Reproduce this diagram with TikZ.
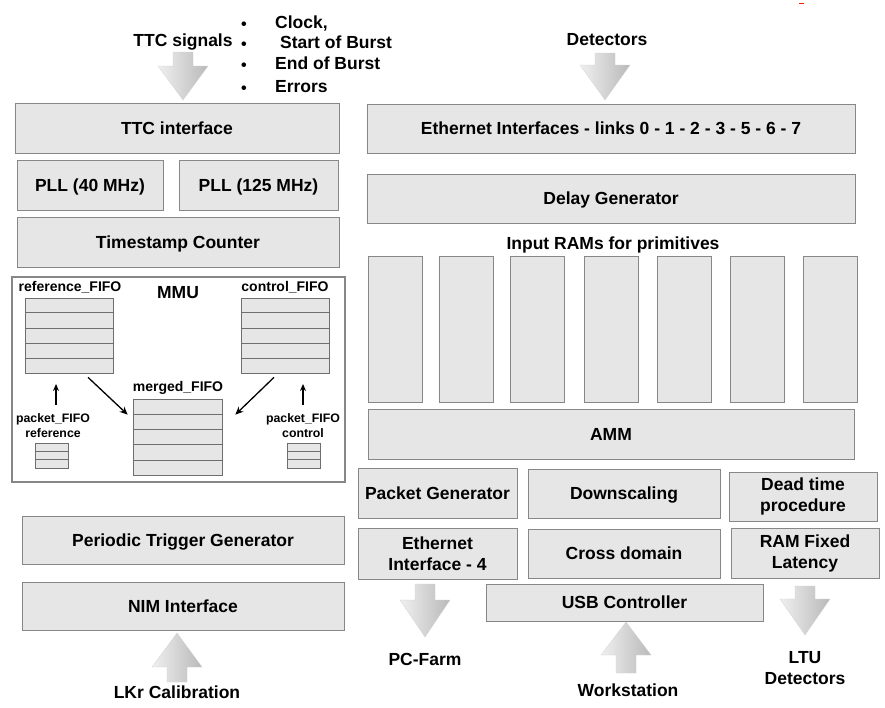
\documentclass[tikz,border=0pt]{standalone}
\usepackage{fontspec}
\setmainfont{Liberation Sans}
\usetikzlibrary{calc,arrows.meta}
\definecolor{boxfill}{RGB}{230,230,230}
\definecolor{boxline}{RGB}{135,135,135}
\definecolor{fifoline}{RGB}{110,110,110}
\newcommand\fbig{\fontsize{17.5}{21}\selectfont\bfseries}
\newcommand\fmid{\fontsize{14}{16}\selectfont\bfseries}
\newcommand\fsmall{\fontsize{12.3}{15}\selectfont\bfseries}
% block arrow: x, far end of shaft, head base, tip
\newcommand\blockarr[4]{%
  \shade[left color=gray!12, right color=gray!55, draw=gray!35, line width=0.3pt]
    (#1-10,#2) -- (#1+10,#2) -- (#1+10,#3) -- (#1+25,#3) -- (#1,#4)
    -- (#1-25,#3) -- (#1-10,#3) -- cycle;}
\begin{document}
\begin{tikzpicture}[x=1pt,y=-1pt,
  every node/.style={font=\fbig, align=center, inner sep=0pt},
  box/.style={draw=boxline, fill=boxfill, line width=0.9pt},
  oneline/.style={text height=12.6pt, text depth=0pt},
  fifo/.style={draw=fifoline, fill=boxfill, line width=0.7pt},
  mmuarrow/.style={line width=1.3pt, -{Stealth[length=8pt,width=7pt]}}]
\useasboundingbox (0,0) rectangle (885,707);

% ---------- top labels ----------
\node[oneline] (ttcsig) at (183,40) {TTC signals};
\foreach \yy [count=\i] in {22,42,63,86}
  \node[font=\fontsize{16}{16}\selectfont\bfseries] (bul\i) at (244,\yy+4) {•};
\node[anchor=west, oneline] (clk) at (275,22) {Clock,};
\node[anchor=west, oneline] (sob) at (280,42) {Start of Burst};
\node[anchor=west, oneline] (eob) at (275,63) {End of Burst};
\node[anchor=west, oneline] (err) at (275,86) {Errors};
\node[oneline] (det) at (607,39) {Detectors};
\draw[red!80!orange, line width=1pt] (799,3) -- (804,3);

\blockarr{183}{52}{66}{100}
\blockarr{605}{53}{65}{100}

% ---------- left column ----------
\node[box, oneline, minimum width=324pt, minimum height=50pt] (ttc) at (177,128) {TTC interface};
\node[box, oneline, minimum width=146pt, minimum height=50pt] (pll40) at (90,185) {PLL (40 MHz)};
\node[box, oneline, minimum width=159pt, minimum height=50pt] (pll125) at (258.5,185) {PLL (125 MHz)};
\node[box, oneline, minimum width=322pt, minimum height=50pt] (ts) at (178,242) {Timestamp Counter};

% MMU
\node[draw=boxline, line width=1.3pt, minimum width=333pt, minimum height=205pt] (mmu) at (178.5,379.5) {};
\node[oneline] (mmulbl) at (178,292) {MMU};
\node[font=\fmid] (refl) at (70,287) {reference\_FIFO};
\node[font=\fmid] (ctrll) at (285,287) {control\_FIFO};
\node[font=\fmid] (merl) at (178,388) {merged\_FIFO};

\node[fifo, minimum width=88pt, minimum height=75pt] (reff) at (69,335.5) {};
\node[fifo, minimum width=88pt, minimum height=75pt] (ctrlf) at (285,335.5) {};
\node[fifo, minimum width=89pt, minimum height=76pt] (merf) at (177.5,437) {};
\foreach \n in {reff,ctrlf,merf}
  \foreach \k in {1,...,4}
    \draw[fifoline, line width=0.7pt] ($(\n.north west)!\k/5!(\n.south west)$) -- ($(\n.north east)!\k/5!(\n.south east)$);

\node[fifo, minimum width=33pt, minimum height=25pt] (pkrf) at (51.5,455.5) {};
\node[fifo, minimum width=33pt, minimum height=25pt] (pkcf) at (303.5,455.5) {};
\foreach \n in {pkrf,pkcf}
  \foreach \k in {1,2}
    \draw[fifoline, line width=0.7pt] ($(\n.north west)!\k/3!(\n.south west)$) -- ($(\n.north east)!\k/3!(\n.south east)$);

\node[font=\fsmall] (pkrl) at (53,425.5) {packet\_FIFO\\reference};
\node[font=\fsmall] (pkcl) at (303,425.5) {packet\_FIFO\\control};

\draw[mmuarrow] ([xshift=19pt,yshift=-4pt]reff.south) -- ([xshift=-5pt,yshift=-16pt]merf.north west);
\draw[mmuarrow] ([xshift=-11pt,yshift=-4pt]ctrlf.south) -- ([xshift=13pt,yshift=-16pt]merf.north east);
\coordinate (pka) at (56,405);
\coordinate (pkb) at (303,405);
\draw[line width=1.4pt, -{Stealth[length=7pt,width=6pt]}] (pka) -- ++(0,-21);
\draw[line width=1.4pt, -{Stealth[length=7pt,width=6pt]}] (pkb) -- ++(0,-21);

\node[box, oneline, minimum width=322pt, minimum height=48pt] (ptg) at (183,540) {Periodic Trigger Generator};
\node[box, oneline, minimum width=322pt, minimum height=48pt] (nim) at (183,606) {NIM Interface};
\blockarr{177}{682}{667}{633}
\node[oneline] (lkr) at (177,692) {LKr Calibration};

% ---------- right column ----------
\node[box, oneline, minimum width=488pt, minimum height=49pt] (eth) at (611,128.5) {Ethernet Interfaces - links 0 - 1 - 2 - 3 - 5 - 6 - 7};
\node[box, oneline, minimum width=488pt, minimum height=49pt] (delay) at (611,198.5) {Delay Generator};
\node[oneline] (inram) at (613,243) {Input RAMs for primitives};
\foreach \xl [count=\i] in {368,439,510,584,657,730,803}
  \node[box, minimum width=54pt, minimum height=146pt] (ram\i) at (\xl+27,329) {};
\node[box, oneline, minimum width=486pt, minimum height=50pt] (amm) at (611,434) {AMM};

\node[box, oneline, minimum width=159pt, minimum height=50pt] (pktgen) at (437.5,493) {Packet Generator};
\node[box, oneline, minimum width=192pt, minimum height=49pt] (down) at (624,493.5) {Downscaling};
\node[box, minimum width=148pt, minimum height=49pt] (dead) at (803,496.5) {Dead time\\procedure};
\node[box, minimum width=159pt, minimum height=51pt] (eth4) at (437.5,553.5) {Ethernet\\Interface - 4};
\node[box, oneline, minimum width=192pt, minimum height=49pt] (cross) at (624,553.5) {Cross domain};
\node[box, minimum width=148pt, minimum height=50pt] (ramfl) at (805,553) {RAM Fixed\\Latency};
\node[box, oneline, minimum width=277pt, minimum height=37pt] (usb) at (624.5,602.5) {USB Controller};

\blockarr{425}{584}{600}{637}
\blockarr{805}{586}{599}{635}
\blockarr{626}{673}{655}{622}

\node[oneline] (pcf) at (425,659) {PC-Farm};
\node (ltu) at (805,668) {LTU\\Detectors};
\node[oneline] (ws) at (628,690) {Workstation};
\end{tikzpicture}
\end{document}
